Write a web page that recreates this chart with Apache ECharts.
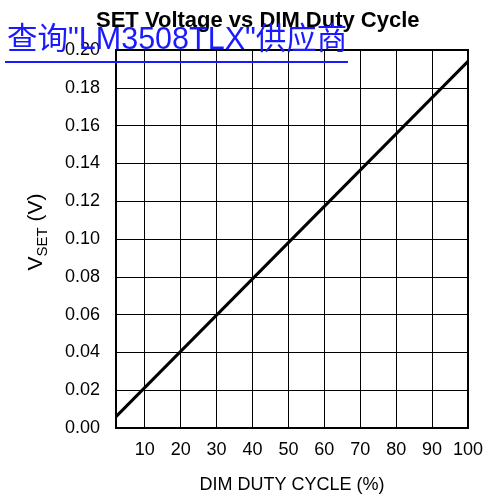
<!DOCTYPE html>
<html>
<head>
<meta charset="utf-8">
<script src="https://cdn.jsdelivr.net/npm/echarts@6/dist/echarts.min.js"></script>
<style>
html,body{margin:0;padding:0;background:#fff;}
#chart{width:487px;height:499px;}
</style>
</head>
<body>
<div id="chart"></div>
<script>
// 数据：直线的两个端点
var dutyCycle = [2, 100];
var vSet = [0.006, 0.194];
var xTicks = [10, 20, 30, 40, 50, 60, 70, 80, 90, 100];

var chart = echarts.init(document.getElementById('chart'));
var pts = [];
for (var i = 0; i < dutyCycle.length; i++) {
	pts.push([dutyCycle[i], vSet[i]]);
}
var font = '"Liberation Sans", Arial, sans-serif';

var option = {
	animation: false,
	title: {
		text: 'SET Voltage vs DIM Duty Cycle',
		left: 91,
		top: 5,
		textStyle: {fontFamily: font, fontSize: 22, fontWeight: 'bold', color: '#000'}
	},
	grid: {left: 116, right: 19, top: 50, bottom: 70, show: true, borderColor: '#000', borderWidth: 2},
	xAxis: {
		type: 'value', min: 2, max: 100,
		name: 'DIM DUTY CYCLE (%)', nameLocation: 'middle', nameGap: 48,
		nameTextStyle: {fontFamily: font, fontSize: 18, color: '#000'},
		axisLine: {show: false},
		axisTick: {show: false, customValues: xTicks},
		axisLabel: {customValues: xTicks, margin: 13, fontFamily: font, fontSize: 18, color: '#000'},
		splitLine: {show: true, lineStyle: {color: '#000', width: 1}}
	},
	yAxis: {
		type: 'value', min: 0, max: 0.2, interval: 0.02,
		name: '{v|V}{s|SET}{v| (V)}', nameLocation: 'middle', nameGap: 66, nameRotate: 90,
		nameTextStyle: {
			padding: [0, 0, 0, 14],
			rich: {
				v: {fontFamily: font, fontSize: 21, color: '#000', verticalAlign: 'top', lineHeight: 24},
				s: {fontFamily: font, fontSize: 15, color: '#000', verticalAlign: 'bottom', lineHeight: 14, padding: [9, 0, 0, 0]}
			}
		},
		axisLine: {show: false},
		axisTick: {show: false},
		axisLabel: {margin: 16, fontFamily: font, fontSize: 18, color: '#000',
			formatter: function (v) { return v.toFixed(2); }},
		splitLine: {show: true, lineStyle: {color: '#000', width: 1}}
	},
	series: [{
		type: 'line', data: pts, symbol: 'none',
		lineStyle: {color: '#000', width: 3}
	}],
	graphic: [
		{type: 'text', left: 7, top: 25, z: 100,
			style: {text: '查询"LM3508TLX"供应商', fill: '#1a1aff', font: '30.5px "Liberation Sans", "Noto Sans CJK SC", sans-serif'}},
		{type: 'rect', left: 5, top: 61, z: 100, shape: {width: 343, height: 2}, style: {fill: '#1a1aff'}}
	]
};
chart.setOption(option);
</script>
</body>
</html>
